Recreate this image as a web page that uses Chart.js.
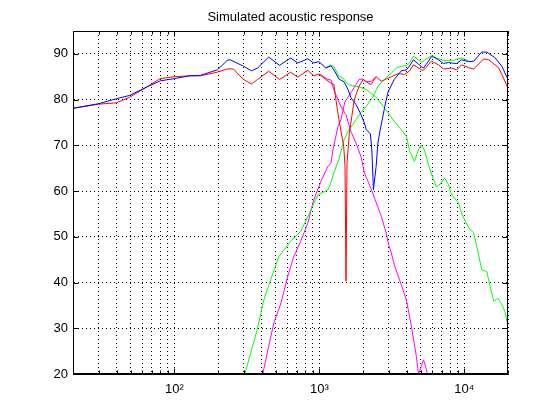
<!DOCTYPE html>
<html>
<head>
<meta charset="utf-8">
<title>Simulated acoustic response</title>
<script src="https://cdn.jsdelivr.net/npm/chart.js@4.4.1/dist/chart.umd.min.js"></script>
<style>
  html, body { margin: 0; padding: 0; background: #fff; }
  canvas { display: block; }
</style>
</head>
<body>
<canvas id="myChart" width="560" height="420"></canvas>
<script>
// Data (frequency in Hz, level in dB)

// Total response, blue
const blueFreq = [20, 30, 40, 49, 65, 80, 100, 128, 151, 198, 232, 243, 300, 340, 375, 447, 532, 634, 710, 832,
    916, 993, 1109, 1202, 1259, 1365, 1479, 1577, 1652, 1790, 1919, 2045, 2102, 2250, 2301, 2361, 2464, 2533, 2628, 2800,
    2893, 2988, 3285, 3675, 3983, 4176, 4456, 5060, 5225, 5654, 5930, 6120, 6633, 7180, 7780, 8160, 8870, 9570, 10710, 11600,
    13180, 14280, 16220, 18140, 20000];
const blueDb = [78.1, 79.1, 80.2, 80.9, 82.8, 84.1, 84.6, 85.2, 85.3, 86.5, 88.6, 88.7, 87.3, 86.3, 86.9, 89.3, 87.5, 89.1, 88.0, 88.9,
    88.0, 88.3, 86.9, 87.4, 86.5, 84.5, 83.9, 82.2, 80.4, 78.9, 77.0, 74.9, 73.5, 72.5, 69.0, 60.3, 65.4, 70.5, 73.4, 77.8,
    80.0, 81.8, 84.4, 86.3, 86.5, 87.3, 88.7, 87.2, 86.9, 88.4, 89.4, 89.3, 88.7, 87.9, 88.1, 88.0, 87.9, 88.7, 88.3, 88.4,
    90.4, 90.4, 89.2, 87.3, 84.4];

// Total response, red
const redFreq = [20, 30, 40, 49, 65, 80, 100, 128, 151, 198, 232, 255, 300, 340, 375, 447, 532, 634, 710, 832,
    916, 993, 1109, 1202, 1259, 1301, 1365, 1472, 1503, 1527, 1552, 1610, 1674, 1742, 1878, 2003, 2168, 2275, 2464, 2672,
    2893, 3133, 3507, 3853, 4176, 4456, 5060, 5225, 5930, 6633, 7180, 8160, 8870, 9570, 10890, 11600, 13600, 14740, 17300, 18140,
    20000];
const redDb = [78.1, 79.0, 79.3, 80.5, 82.8, 84.6, 85.0, 85.2, 85.2, 86.0, 86.7, 86.7, 84.4, 83.4, 84.4, 86.2, 84.4, 86.0, 84.9, 86.4,
    85.2, 85.6, 84.4, 83.6, 83.3, 80.0, 75.6, 69.8, 65.5, 40.3, 66.0, 72.7, 76.3, 80.0, 82.9, 84.4, 83.6, 83.3, 85.0, 84.0,
    84.5, 85.0, 85.7, 85.5, 86.2, 87.6, 86.5, 86.4, 88.4, 87.6, 86.7, 86.9, 86.5, 87.6, 86.9, 86.7, 88.9, 88.7, 86.9, 85.5,
    82.5];

// Green: low-pass branch and high-pass branch
const greenLoFreq = [1109, 1202, 1259, 1365, 1455, 1577, 1706, 1878, 2102, 2349, 2545, 2755, 2988, 3285, 3675, 3983, 4176, 4524, 4825, 5060,
    5305, 5654, 6120, 6424, 6955, 7300, 7780, 8160, 9120, 9570, 10050, 10890, 11600, 12170, 13180, 14280, 14970, 15960, 17010, 18140,
    19040, 20000];
const greenLoDb = [86.9, 87.6, 87.2, 85.1, 84.7, 83.3, 83.0, 82.8, 82.2, 81.1, 80.0, 78.5, 77.1, 75.2, 73.4, 72.0, 69.0, 66.5, 69.0, 70.1,
    69.0, 65.8, 62.5, 60.9, 61.8, 62.9, 61.4, 59.2, 57.4, 55.2, 53.7, 51.6, 50.9, 47.9, 42.8, 42.4, 39.5, 35.9, 36.6, 35.2,
    33.7, 30.4];
const greenHiFreq = [306, 373, 414, 461, 526, 634, 744, 845, 873, 977, 1145, 1202, 1259, 1365, 1479, 1602, 1790, 1940, 2102, 2338,
    2545, 2800, 3133, 3395, 3675, 3983, 4176, 4456, 5060, 5930, 7180, 8160, 9570, 10710];
const greenHiDb = [20.0, 29.7, 36.2, 40.6, 45.7, 49.0, 51.2, 54.8, 55.9, 59.2, 60.3, 61.8, 64.0, 66.9, 71.2, 73.4, 75.6, 77.2, 78.5, 80.5,
    83.0, 84.4, 85.8, 86.9, 87.3, 87.4, 88.0, 89.5, 88.2, 89.6, 88.5, 88.5, 89.1, 88.5];

// Magenta: low-pass branch and high-pass branch
const magLoFreq = [993, 1024, 1145, 1202, 1259, 1343, 1409, 1527, 1652, 1790, 1940, 2045, 2275, 2464, 2672, 2893, 2988, 3133, 3285, 3675,
    3983, 4314, 4670, 4825, 5060, 5225, 5395, 5570];
const magLoDb = [85.6, 85.4, 84.4, 84.3, 82.2, 80.0, 78.5, 76.7, 73.0, 70.5, 67.5, 64.0, 60.5, 57.5, 54.5, 50.8, 48.6, 46.5, 43.9, 39.5,
    36.2, 30.4, 23.8, 20.0, 21.7, 23.1, 21.7, 20.0];
const magHiFreq = [407, 437, 486, 541, 605, 666, 744, 832, 873, 916, 1024, 1145, 1202, 1241, 1343, 1409, 1500, 1652, 1790, 1878,
    2003, 2102, 2275, 2464];
const magHiDb = [20.0, 24.6, 31.2, 35.3, 41.3, 45.7, 49.0, 53.0, 55.6, 58.1, 62.1, 65.4, 66.1, 69.0, 74.1, 75.6, 79.5, 81.5, 83.3, 84.4,
    84.5, 83.9, 84.0, 85.0];

// Ticks
const yTicks = [20, 30, 40, 50, 60, 70, 80, 90];
const xGrid = [20, 30, 40, 50, 60, 70, 80, 90, 100, 200, 300, 400, 500, 600, 700, 800, 900,
    1000, 2000, 3000, 4000, 5000, 6000, 7000, 8000, 9000, 10000, 20000];
const xTickValues = [100, 1000, 10000];
const xTickLabels = ['10\u00B2', '10\u00B3', '10\u2074'];

// Helpers

const ctx = document.getElementById('myChart').getContext('2d');
const fuente = "'Liberation Sans', Arial, Helvetica, 'DejaVu Sans', sans-serif";
Chart.defaults.font.family = fuente;
Chart.defaults.font.size = 13;
Chart.defaults.color = '#000';

let puntos = (freq, db) => freq.map((f, i) => ({ x: f, y: db[i] }));

let serie = (freq, db, color) => {
    return {
        data: puntos(freq, db),
        borderColor: color,
        backgroundColor: color,
        borderWidth: 1,
        pointRadius: 0,
        tension: 0,
        fill: false
    };
};

// Solid box round the plot with inward tick marks, like the original
const marco = {
    id: 'marco',
    afterDatasetsDraw(chart) {
        const { ctx, chartArea: a, scales } = chart;
        const l = Math.round(a.left) + 0.5, r = Math.round(a.right) - 0.5;
        const t = Math.round(a.top) + 0.5, b = Math.round(a.bottom) - 0.5;
        ctx.save();
        ctx.strokeStyle = '#000';
        ctx.lineWidth = 1;
        ctx.setLineDash([]);
        ctx.strokeRect(l, t, r - l, b - t);
        ctx.beginPath();
        yTicks.forEach(v => {
            const y = Math.round(scales.y.getPixelForValue(v)) + 0.5;
            ctx.moveTo(l, y); ctx.lineTo(l + 5, y);
            ctx.moveTo(r, y); ctx.lineTo(r - 5, y);
        });
        xGrid.forEach(v => {
            const x = Math.round(scales.x.getPixelForValue(v)) + 0.5;
            const len = xTickValues.includes(v) ? 5 : 3;
            ctx.moveTo(x, b); ctx.lineTo(x, b - len);
            ctx.moveTo(x, t); ctx.lineTo(x, t + len);
        });
        ctx.stroke();
        ctx.restore();
    }
};

// Chart

const myChart = new Chart(ctx, {
    type: 'line',
    data: {
        datasets: [
            serie(blueFreq, blueDb, '#0000ff'),
            serie(redFreq, redDb, '#ff0000'),
            serie(greenLoFreq, greenLoDb, '#00ff00'),
            serie(greenHiFreq, greenHiDb, '#00ff00'),
            serie(magLoFreq, magLoDb, '#ff00ff'),
            serie(magHiFreq, magHiDb, '#ff00ff')
        ]
    },
    options: {
        responsive: false,
        animation: false,
        layout: { padding: { left: 0, right: 52, top: 0, bottom: 0 } },
        plugins: {
            legend: { display: false },
            tooltip: { enabled: false },
            title: {
                display: true,
                fullSize: false,
                text: 'Simulated acoustic response',
                color: '#000',
                font: { size: 13, weight: 'normal' },
                padding: { top: 10, bottom: 5.4 }
            }
        },
        scales: {
            x: {
                type: 'logarithmic',
                min: 20,
                max: 20000,
                afterBuildTicks: (s) => { s.ticks = xGrid.map(v => ({ value: v })); },
                afterFit: (s) => { s.height = 46; },
                ticks: {
                    autoSkip: false,
                    maxRotation: 0,
                    padding: 8,
                    callback: (v) => {
                        const i = xTickValues.indexOf(v);
                        return i >= 0 ? xTickLabels[i] : '';
                    }
                },
                grid: { color: '#000', drawTicks: false, lineWidth: 1 },
                border: { color: '#000', dash: [1, 3] }
            },
            y: {
                min: 20,
                max: 95,
                afterBuildTicks: (s) => { s.ticks = yTicks.map(v => ({ value: v })); },
                afterFit: (s) => { s.width = 73; },
                ticks: { padding: 5 },
                grid: { color: '#000', drawTicks: false, lineWidth: 1 },
                border: { color: '#000', dash: [1, 3] }
            }
        }
    },
    plugins: [marco]
});
</script>
</body>
</html>
